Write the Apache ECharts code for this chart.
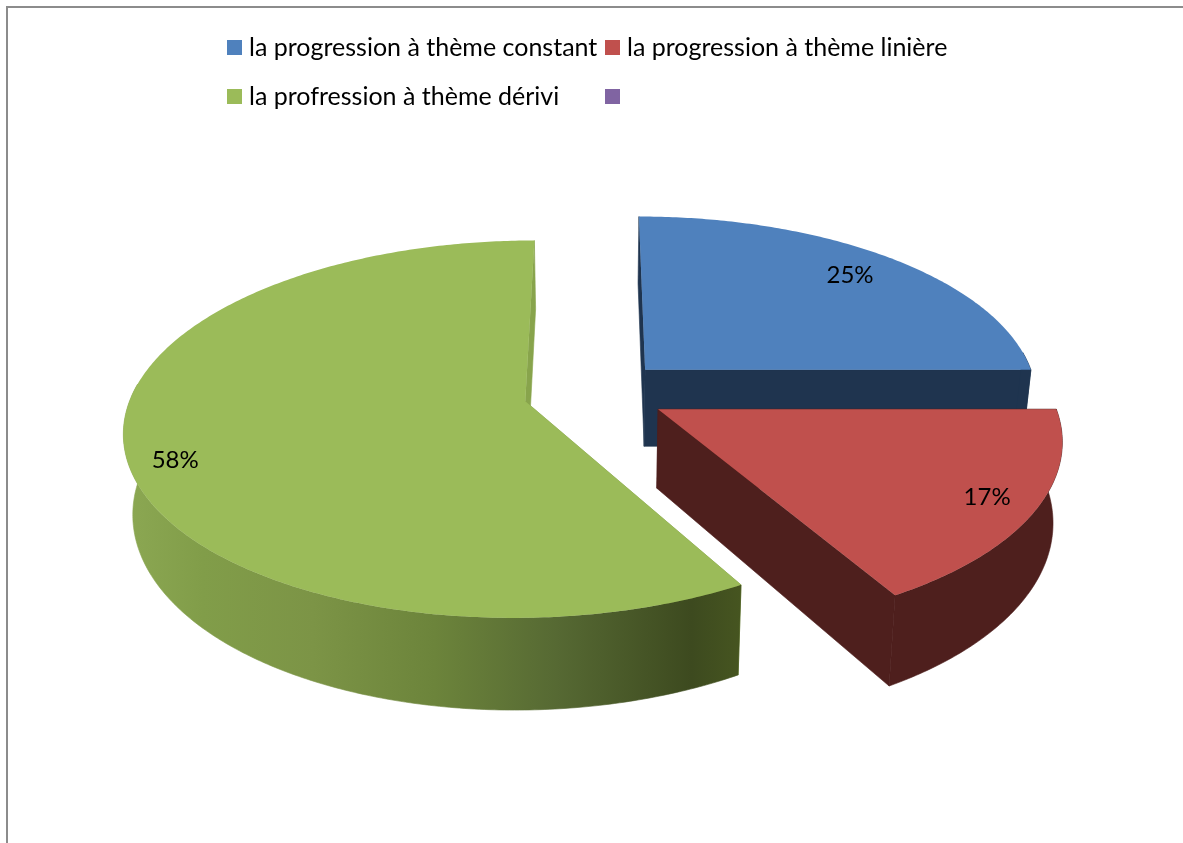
<!DOCTYPE html>
<html>
<head>
<meta charset="utf-8">
<title>Pie</title>
<script src="https://cdn.jsdelivr.net/npm/echarts@6/dist/echarts.min.js"></script>
<style>
  html, body { margin: 0; padding: 0; background: #fff; }
  #chart { width: 1183px; height: 843px; }
</style>
</head>
<body>
<div id="chart"></div>
<script>
var categories = ['la progression à thème constant', 'la progression à thème linière', 'la profression à thème dérivi', ' '];
var values = [25, 16.7, 58.3, 0];

var topColors = ['#4F81BD', '#C0504D', '#9BBB59', '#8064A2'];
var edgeColors = ['#1F344F', '#4E1F1D', '#88A44C', '#8064A2'];
var rimColors = ['#1F344F', '#4E1F1D', null, '#8064A2'];
var labelRadius = [0.83, 0.88, 0.89, 0];
var labelTurn = [0, 0, -5, 0];   // degrees
var explode = [0.18, 0.18, 0.185, 0];  // slice offset, in radius units
var drawOrder = [1, 3, 2, 0];
var legendLeft = [227, 605, 227, 605];
var legendTop = [35, 35, 84, 84];

// pie geometry, fitted by eye on the picture
var cx = 596, cy = 392.5; // screen position of the pie centre
var radiusX = 393, radiusY = 182;
var tilt = 0.147;         // perspective strength
var depth = 78;           // thickness
var shrink = 0.98;        // bottom face is a bit smaller

var total = values.reduce(function (a, b) { return a + b; }, 0);

function project(u, v, low) {
  var w = 1 + tilt * v;
  var s = low ? shrink : 1;
  return [cx + radiusX * u * s / w, cy + (low ? depth : 0) / w - radiusY * v / w];
}

// angles clockwise from the top, radians
function sliceAngles(i) {
  var before = 0;
  for (var k = 0; k < i; k++) before += values[k];
  var a0 = before / total * Math.PI * 2;
  return [a0, a0 + values[i] / total * Math.PI * 2];
}

function renderSlice(params, api) {
  var i = params.seriesIndex;
  var ang = sliceAngles(i);
  var mid = (ang[0] + ang[1]) / 2;
  var ou = explode[i] * Math.sin(mid), ov = explode[i] * Math.cos(mid);
  var steps = Math.max(2, Math.ceil((ang[1] - ang[0]) * 90));
  var topRim = [], lowRim = [], wallTop = [], wallLow = [];
  for (var s = 0; s <= steps; s++) {
    var a = ang[0] + (ang[1] - ang[0]) * s / steps;
    var pt = project(ou + Math.sin(a), ov + Math.cos(a), false);
    var pl = project(ou + Math.sin(a), ov + Math.cos(a), true);
    topRim.push(pt);
    lowRim.push(pl);
    // only the part of the outer wall that faces the viewer
    if (Math.cos(a) < 0.1) {
      wallTop.push(pt);
      wallLow.push(pl);
    }
  }
  var apexTop = project(ou, ov, false), apexLow = project(ou, ov, true);
  var rimFill = rimColors[i] || new echarts.graphic.LinearGradient(130, 0, 740, 0, [
    { offset: 0, color: '#8BA752' },
    { offset: 0.12, color: '#819D49' },
    { offset: 0.3, color: '#7C9446' },
    { offset: 0.5, color: '#6C843B' },
    { offset: 0.7, color: '#566933' },
    { offset: 0.92, color: '#3D4A1F' },
    { offset: 1, color: '#465520' }
  ], true);
  var poly = function (pts, fill) {
    return { type: 'polygon', shape: { points: pts }, style: { fill: fill, stroke: fill, lineWidth: 0.6 } };
  };
  var la = mid + labelTurn[i] * Math.PI / 180;
  var lr = labelRadius[i];
  var labelPos = project(ou + lr * Math.sin(la), ov + lr * Math.cos(la), false);
  var kids = [
    poly([apexTop, topRim[0], lowRim[0], apexLow], edgeColors[i]),
    poly([apexTop, topRim[steps], lowRim[steps], apexLow], edgeColors[i])
  ];
  if (wallTop.length > 1) {
    kids.push(poly(wallTop.concat(wallLow.slice().reverse()), rimFill));
  }
  kids.push({ type: 'polygon', shape: { points: [apexTop].concat(topRim) }, style: { fill: topColors[i] } });
  kids.push({
    type: 'text',
    x: labelPos[0],
    y: labelPos[1],
    style: {
      text: Math.round(values[i]) + '%',
      fill: '#000',
      font: '24px Lato',
      align: 'center',
      verticalAlign: 'middle'
    }
  });
  return { type: 'group', children: kids };
}

var myChart = echarts.init(document.getElementById('chart'));
myChart.setOption({
  animation: false,
  backgroundColor: '#fff',
  legend: categories.map(function (name, i) {
    return {
      data: [name],
      left: legendLeft[i],
      top: legendTop[i],
      padding: 0,
      icon: 'rect',
      itemWidth: 15,
      itemHeight: 15,
      selectedMode: false,
      textStyle: { fontFamily: 'Lato', fontSize: 25, color: '#000', padding: [0, 0, 0, 2] }
    };
  }),
  graphic: [{
    type: 'polyline',
    shape: { points: [[7, 843], [7, 7], [1183, 7]] },
    style: { stroke: '#8C8C8C', lineWidth: 2, fill: 'none' },
    silent: true
  }],
  series: categories.map(function (name, i) {
    return {
      type: 'custom',
      name: name,
      coordinateSystem: 'none',
      z: drawOrder[i] + 2,
      itemStyle: { color: topColors[i] },
      silent: true,
      renderItem: renderSlice,
      data: values[i] > 0 ? [values[i]] : []
    };
  })
});
</script>
</body>
</html>
